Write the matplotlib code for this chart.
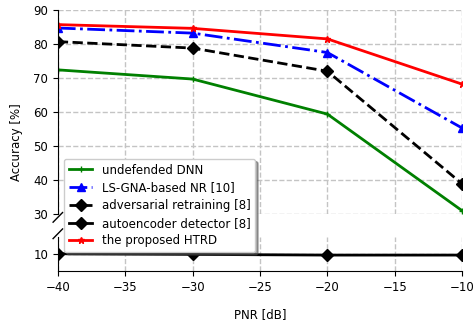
import matplotlib
matplotlib.use("Agg")
import matplotlib.pyplot as plt

pnr = [-40, -30, -20, -10]
undefended = [72.4, 69.7, 59.4, 31.0]
ls_gna = [84.7, 83.2, 77.5, 55.3]
adv_retrain = [80.7, 78.8, 72.0, 38.9]
autoencoder = [10.1, 9.9, 9.7, 9.7]
htrd = [85.7, 84.6, 81.5, 68.2]

plt.rcParams["font.size"] = 8.5

fig = plt.figure(figsize=(4.74, 3.22), dpi=100)
ax1 = fig.add_axes([0.122, 0.335, 0.853, 0.634])
ax2 = fig.add_axes([0.122, 0.158, 0.853, 0.106])

for ax in (ax1, ax2):
    ax.plot(pnr, undefended, color="g", ls="-", lw=2, marker="+", ms=5, label="undefended DNN")
    ax.plot(pnr, ls_gna, color="b", ls="-.", lw=2, marker="^", ms=6, label="LS-GNA-based NR [10]")
    ax.plot(pnr, adv_retrain, color="k", ls="--", lw=2, marker="D", ms=6, label="adversarial retraining [8]")
    ax.plot(pnr, autoencoder, color="k", ls="-", lw=2, marker="D", ms=6, label="autoencoder detector [8]")
    ax.plot(pnr, htrd, color="r", ls="-", lw=2, marker="*", ms=5, label="the proposed HTRD")
    ax.set_xlim(-40, -10)
    ax.grid(True, ls="--", color="#c4c4c4", lw=1)
    ax.spines["top"].set_visible(False)
    ax.spines["right"].set_visible(False)

ax1.set_ylim(30, 90)
ax1.set_yticks([30, 40, 50, 60, 70, 80, 90])
ax1.spines["bottom"].set_visible(False)
ax1.tick_params(axis="x", bottom=False, labelbottom=False)

ax2.set_ylim(5, 15)
ax2.set_yticks([10])
ax2.set_xticks([-40, -35, -30, -25, -20, -15, -10])

# break marks on the left spine
d = 0.010
kw = dict(transform=fig.transFigure, color="k", lw=1, clip_on=False)
x0 = 0.122
fig.add_artist(plt.Line2D([x0 - d, x0 + d], [0.335 - 0.025, 0.335 + 0.005], **kw))
fig.add_artist(plt.Line2D([x0 - d, x0 + d], [0.264 - 0.005, 0.264 + 0.025], **kw))

fig.text(0.035, 0.56, "Accuracy [%]", rotation=90, va="center", ha="center")
ax2.set_xlabel("PNR [dB]", labelpad=10)

handles, labels = ax1.get_legend_handles_labels()
fig.legend(handles, labels, loc="lower left", bbox_to_anchor=(0.135, 0.217),
           shadow=True, framealpha=1, borderaxespad=0, labelspacing=0.4)

fig.savefig("out.png", dpi=100)
